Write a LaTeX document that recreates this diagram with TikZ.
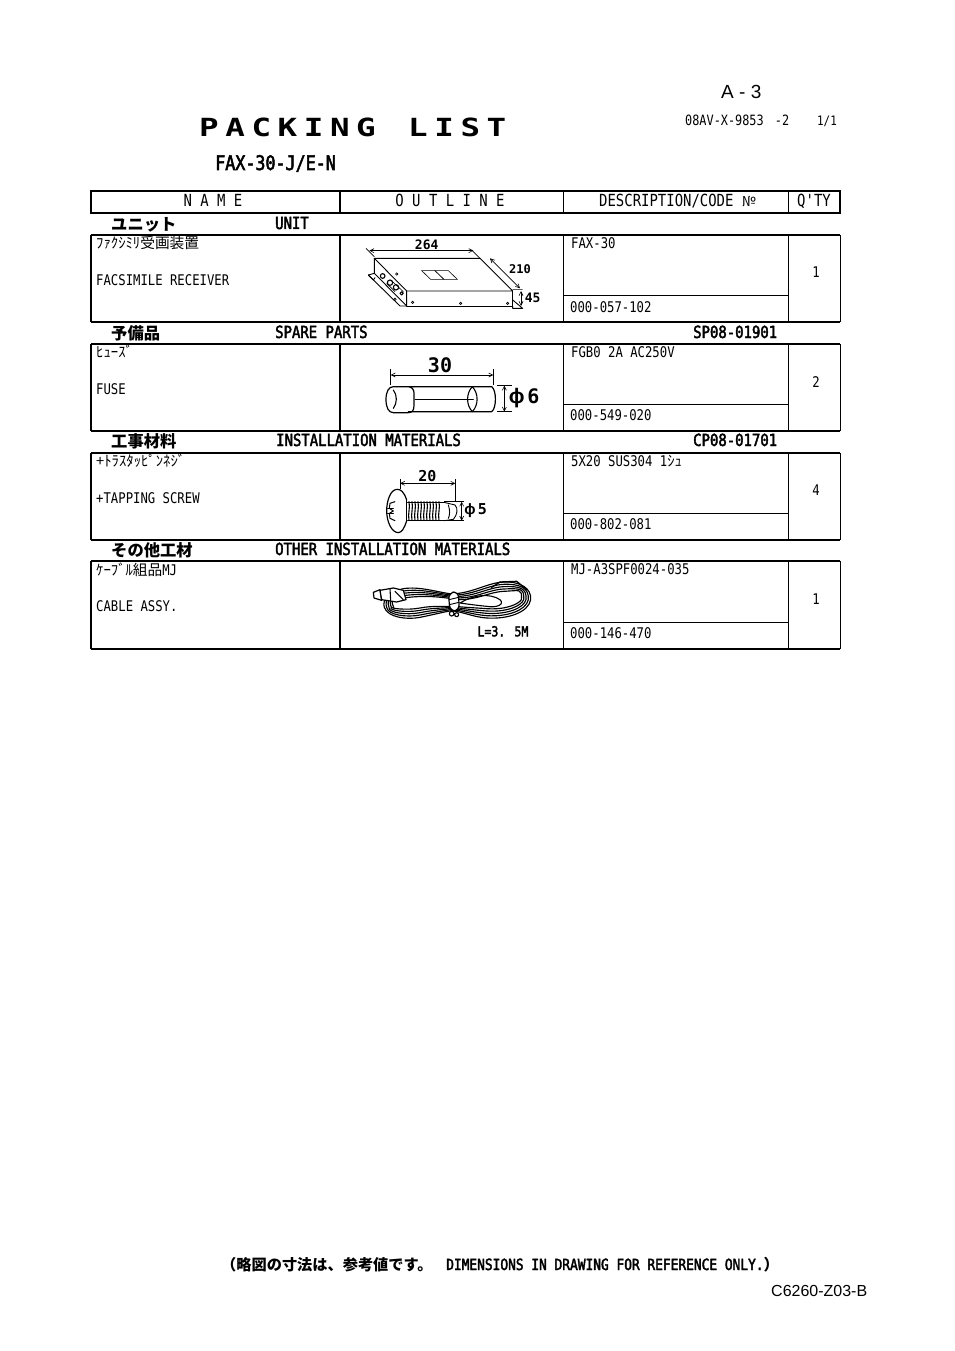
\documentclass[tikz,border=0pt]{standalone}
\usepackage{fontspec}
\usetikzlibrary{arrows.meta}
\setmainfont{Liberation Sans}
\newfontfamily\gothic[FakeStretch=.835]{DejaVu Sans Mono}
\newfontfamily\gothicb[FakeStretch=.835,FakeBold=2.5]{DejaVu Sans Mono}
\newfontfamily\widefont[FakeStretch=1.3]{DejaVu Sans Mono}
\newfontfamily\dimfont[FakeStretch=1.0]{DejaVu Sans Mono}
\newfontfamily\cjk{Noto Sans CJK JP}
\newfontfamily\phifont{Liberation Sans}
\newcommand{\fz}[1]{\fontsize{#1}{#1}\selectfont}
\tikzset{
  base/.style={inner sep=0pt,anchor=base west},
  reg/.style={base,font=\gothic\fz{14.7}},
  kana/.style={base,font=\cjk\fz{14.7}},
  head/.style={inner sep=0pt,anchor=base,font=\gothic\fz{16.7}},
  sec/.style={base,font=\gothicb\fz{16.7}},
  seckana/.style={base,font=\cjk\bfseries\fz{16.3}},
  qty/.style={inner sep=0pt,anchor=base,font=\gothic\fz{14.7}},
  thick rule/.style={line width=1.5pt},
  thin rule/.style={line width=1pt},
  art/.style={line width=0.9pt,line join=round,line cap=round},
  dim/.style={line width=0.6pt},
  dimarrow/.style={line width=0.6pt,{Straight Barb[length=4pt,width=4pt]}-{Straight Barb[length=4pt,width=4pt]}},
  dimtext/.style={inner sep=0pt,anchor=base},
}
\begin{document}
\begin{tikzpicture}[x=1pt,y=-1pt]
\useasboundingbox (0,0) rectangle (954,1351);
\fill[white] (0,0) rectangle (954,1351);
% Titles
\node[inner sep=0pt,anchor=base west,font=\fz{19}] (pageno) at (721,99) {A - 3};
\node[base,font=\gothic\fz{14.2}] (docno) at (685,126) {08AV-X-9853\hspace{4pt} -2};
\node[base,font=\gothic\fz{13}] (sheet) at (817,126) {1/1};
\node[base,font=\widefont\bfseries\fz{25}] (title) at (199,137) {\spaceskip 6.6pt P A C K I N G\hspace{25.9pt} L I S T};
\node[base,font=\gothicb\fz{20}] (model) at (215,170) {FAX-30-J/E-N};
% Table frame
\draw[thick rule] (91,191) rectangle (840,213);
\draw[thick rule] (340,191)--(340,213);
\draw[thin rule] (563,191)--(563,213) (788,191)--(788,213);
\foreach \t/\s/\b in {235/295/322,344/404/431,453/513/540,561/622/649}{
  \draw[thick rule] (91,\t)--(840,\t);
  \draw[thick rule] (91,\b)--(840,\b);
  \draw[thick rule] (91,\t)--(91,\b) (340,\t)--(340,\b);
  \draw[thin rule] (563,\t)--(563,\b) (788,\t)--(788,\b) (840,\t)--(840,\b);
  \draw[thin rule] (563,\s)--(788,\s);
}
% Header
\node[head] (hname) at (213,206) {N A M E};
\node[head] (houtline) at (450,206) {O U T L I N E};
\node[base,font=\gothic\fz{16.7}] (hdesc) at (599,206) {DESCRIPTION/CODE {\cjk\fz{14}№}};
\node[head] (hqty) at (814,206) {Q'TY};
% Sections
\node[seckana] (s1a) at (111,230) {ユニット};
\node[sec] (s1b) at (275,229) {UNIT};
\node[seckana] (s2a) at (111,339) {予備品};
\node[sec] (s2b) at (275,338) {SPARE PARTS};
\node[sec] (s2c) at (693,338) {SP08-01901};
\node[seckana] (s3a) at (111,447) {工事材料};
\node[sec] (s3b) at (276,446) {INSTALLATION MATERIALS};
\node[sec] (s3c) at (693,446) {CP08-01701};
\node[seckana] (s4a) at (111,556) {その他工材};
\node[sec] (s4b) at (275,555) {OTHER INSTALLATION MATERIALS};
% Names
\node[kana] (n1a) at (96,248) {ﾌｧｸｼﾐﾘ受画装置};
\node[reg] (n1b) at (96,285) {FACSIMILE RECEIVER};
\node[kana] (n2a) at (96,357) {ﾋｭｰｽﾞ};
\node[reg] (n2b) at (96,394) {FUSE};
\node[kana] (n3a) at (96,466) {+ﾄﾗｽﾀｯﾋﾟﾝﾈｼﾞ};
\node[reg] (n3b) at (96,503) {+TAPPING SCREW};
\node[kana] (n4a) at (96,575) {ｹｰﾌﾞﾙ組品{\gothic MJ}};
\node[reg] (n4b) at (96,611) {CABLE ASSY.};
% Descriptions
\node[reg] (d1a) at (571,248) {FAX-30};
\node[reg] (d1b) at (570,312) {000-057-102};
\node[reg] (d2a) at (571,357) {FGB0 2A AC250V};
\node[reg] (d2b) at (570,420) {000-549-020};
\node[base,font=\gothic\fz{14.7}] (d3a) at (571,466) {5X20 SUS304 1{\cjk ｼｭ}};
\node[reg] (d3b) at (570,529) {000-802-081};
\node[reg] (d4a) at (571,574) {MJ-A3SPF0024-035};
\node[reg] (d4b) at (570,638) {000-146-470};
% Quantities
\node[qty] (q1) at (816,277) {1};
\node[qty] (q2) at (816,387) {2};
\node[qty] (q3) at (816,495) {4};
\node[qty] (q4) at (816,604) {1};
% Footer
\node[base,font=\cjk\bfseries\fz{15.2}] (fn1) at (221,1270) {（略図の寸法は、参考値です。};
\node[base,font=\gothicb\fz{15.4}] (fn2) at (446,1270) {DIMENSIONS IN DRAWING FOR REFERENCE ONLY.{\cjk\bfseries）}};
\node[base,font=\fz{16}] (code) at (771,1296) {C6260-Z03-B};

% Receiver unit
\begin{scope}[shift={(340,230)},x=0.33333pt,y=-0.33333pt]
\draw[art] (103,85)--(420,85)--(518,183)--(200,183)--cycle;
\draw[art] (103,85)--(103,130)--(200,228)--(200,183);
\draw[art] (200,228)--(518,228)--(518,183);
\draw[art] (103,130)--(85,135)--(180,228)--(200,228);
\draw[art] (85,135)--(100,150)--(105,143);
\draw[art] (518,210)--(548,235)--(518,235)--(518,228);
\draw[dim,fill=white] (245,122)--(285,122)--(312,148)--(272,148)--cycle;
\draw[dim,fill=white] (285,122)--(325,122)--(352,148)--(312,148)--cycle;
\foreach \x/\y in {218/217,362/220,503/220,170/132,165/208}{\draw[dim] (\x,\y) circle (3.5);}
\foreach \x/\y/\r in {128/138/7,150/158/8,168/172/8,185/190/5}{\draw[art,line width=1.1pt] (\x,\y) circle (\r);}
\draw[dim] (140,160)--(165,185) (152,150)--(190,185);
\draw[dim] (78,55)--(103,80) (395,60)--(420,85) (518,178)--(548,178);
\draw[dimarrow] (88,62)--(400,62);
\draw[dimarrow] (450,85)--(540,175);
\draw[dimarrow] (543,183)--(543,228);
\node[dimtext,font=\dimfont\bfseries\fz{13}] (d264) at (260,57) {264};
\node[dimtext,font=\dimfont\bfseries\fz{12}] (d210) at (540,130) {210};
\node[dimtext,font=\dimfont\bfseries\fz{13}] (d45) at (578,216) {45};
\end{scope}

% Fuse
\begin{scope}[shift={(340,340)},x=0.33333pt,y=-0.33333pt]
\draw[art,line width=1.2pt] (222,140)--(160,140) .. controls (146,140) and (138,155) .. (138,179) .. controls (138,203) and (146,218) .. (160,218)--(205,218) .. controls (218,218) and (222,210) .. (222,195)--(222,160) .. controls (222,150) and (218,142) .. (205,140);
\draw[art,line width=1.2pt] (222,140)--(455,140) .. controls (470,150) and (470,205) .. (455,215)--(205,215);
\draw[art,line width=1.1pt] (397,140) .. controls (378,160) and (378,195) .. (397,215) .. controls (416,195) and (416,160) .. (397,140);
\draw[art,line width=1.1pt] (160,150) .. controls (172,165) and (172,190) .. (160,205);
\draw[art] (225,178)--(400,178);
\draw[dim] (152,88)--(152,135) (460,88)--(460,135) (472,137)--(515,137) (472,215)--(515,215);
\draw[dimarrow] (152,105)--(460,105);
\draw[dimarrow] (493,137)--(493,215);
\node[dimtext,font=\dimfont\bfseries\fz{20}] (d30) at (300,96) {30};
\node[inner sep=0pt,anchor=base,font=\phifont\bfseries\fz{21}] (phi6) at (530,191) {ϕ};
\node[dimtext,font=\dimfont\bfseries\fz{20}] (d6) at (580,191) {6};
\end{scope}

% Screw
\begin{scope}[shift={(340,450)},x=0.33333pt,y=-0.33333pt]
\draw[art,line width=1.2pt] (200,150) .. controls (192,125) and (182,118) .. (172,118) .. controls (150,118) and (140,155) .. (140,183) .. controls (140,215) and (155,248) .. (175,248) .. controls (185,248) and (193,235) .. (200,212);
\draw[art,line width=1.1pt] (200,150)--(200,212);
\draw[art,line width=1pt] (165,155)--(150,160)--(148,175)--(160,183)--(148,190)--(150,205)--(165,212);
\draw[art] (143,175)--(160,175) (143,190)--(160,190);
\draw[art] (203,157)--(312,157) (203,210)--(312,210);
\foreach \x in {207,216,...,305}{\draw[art,line width=1.1pt] (\x,155) .. controls (\x+4,175) and (\x-4,190) .. (\x,212);}
\draw[art] (312,157)--(345,165) .. controls (355,175) and (352,195) .. (340,208)--(312,212);
\draw[art] (325,165) .. controls (330,180) and (330,195) .. (325,205);
\draw[dim] (180,88)--(180,118) (346,88)--(346,155) (312,155)--(372,155) (312,212)--(372,212);
\draw[dimarrow] (180,100)--(346,100);
\draw[dimarrow] (365,155)--(365,212);
\node[dimtext,font=\dimfont\bfseries\fz{15}] (d20) at (262,94) {20};
\node[inner sep=0pt,anchor=base,font=\phifont\bfseries\fz{15}] (phi5) at (390,192) {ϕ};
\node[dimtext,font=\dimfont\bfseries\fz{15}] (d5) at (427,192) {5};
\end{scope}

% Cable
\begin{scope}[shift={(340,558)},x=0.33333pt,y=-0.33333pt]
\foreach \d in {0,7,14,21,28}{
  \draw[art,line width=1.15pt] (335,108+0.5*\d) .. controls (400,105+\d) and (440,75+\d) .. (490,72+\d) .. controls (540,70+\d) and (575-\d,90) .. (572-\d,125) .. controls (565-\d,165-\d) and (500,184-\d) .. (440,180-\d) .. controls (400,177-\d) and (370,162-0.5*\d) .. (335,158-0.5*\d);
  \draw[art,line width=1.15pt] (335,108+0.5*\d) .. controls (280,100+0.5*\d) and (240,85+\d) .. (190,92+\d) .. controls (150,100+\d) and (125+\d,125) .. (133+\d,148) .. controls (143,178-\d) and (200,186-\d) .. (240,178-\d) .. controls (280,170-\d) and (310,162-0.5*\d) .. (335,158-0.5*\d);
}
\draw[art,line width=1.1pt] (360,135) .. controls (400,110) and (450,105) .. (480,125) .. controls (495,140) and (470,150) .. (440,145) .. controls (410,142) and (380,138) .. (360,135);
\draw[art,line width=1.3pt] (455,88)--(480,72)--(530,70)--(560,95);
\draw[art,fill=white,line width=1.2pt] (100,103)--(120,95)--(125,127)--(102,120)--cycle;
\draw[art,fill=white,line width=1.2pt] (120,97)--(160,90)--(190,97)--(198,125)--(170,132)--(125,125)--cycle;
\draw[art,line width=1.1pt] (150,92)--(152,128) (165,100)--(190,125);
\draw[art,fill=white,line width=1.2pt,rounded corners=6pt] (325,105)--(355,100)--(358,158)--(330,160)--cycle;
\draw[art] (327,125)--(356,118) (328,140)--(357,133);
\draw[art,line width=1.1pt] (335,167) circle (7) (350,170) circle (6);
\node[base,font=\gothicb\fz{13.8}] (lenlabel) at (412,235) {L=3. 5M};
\end{scope}
\end{tikzpicture}
\end{document}
